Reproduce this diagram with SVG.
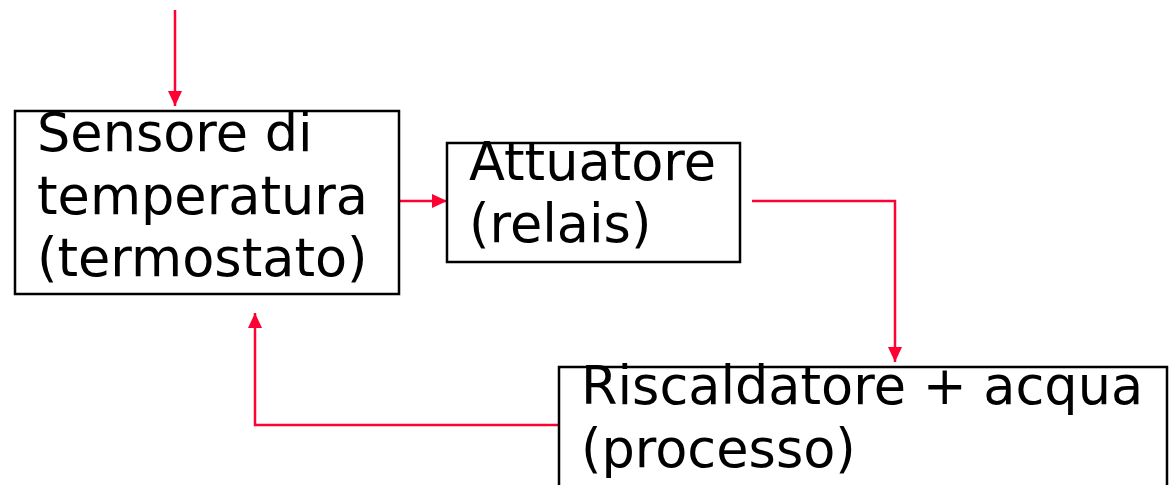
<svg xmlns="http://www.w3.org/2000/svg" width="1173" height="485" viewBox="0 0 1173 485">
  <defs>
    <marker id="arrow" viewBox="0 0 15 14" refX="15" refY="7" markerWidth="15" markerHeight="14" markerUnits="userSpaceOnUse" orient="auto">
      <path d="M0,0 L15,7 L0,14 z" fill="#FF0033"/>
    </marker>
    <style>
      .box { fill: #FFFFFF; stroke: #000000; stroke-width: 2.5; }
      .label { font-family: "DejaVu Sans", Verdana, sans-serif; font-size: 52.5px; fill: #000000; }
      .link { fill: none; stroke: #FF0033; stroke-width: 2.5; marker-end: url(#arrow); }
    </style>
  </defs>
  <rect width="1173" height="485" fill="#FFFFFF"/>

  <g id="connectors">
    <path class="link" d="M175,10 L175,106"/>
    <path class="link" d="M400,201 L447,201"/>
    <path class="link" d="M752,201 L895,201 L895,362"/>
    <path class="link" d="M559,425 L255,425 L255,313"/>
  </g>

  <g id="sensore">
    <rect class="box" x="15" y="111" width="384" height="183"/>
    <text class="label">
      <tspan x="37" y="151">Sensore di</tspan>
      <tspan x="37" y="213.5">temperatura</tspan>
      <tspan x="37" y="276">(termostato)</tspan>
    </text>
  </g>

  <g id="attuatore">
    <rect class="box" x="447" y="143" width="293" height="119"/>
    <text class="label">
      <tspan x="469" y="180">Attuatore</tspan>
      <tspan x="469" y="242">(relais)</tspan>
    </text>
  </g>

  <g id="processo">
    <rect class="box" x="559" y="367" width="608" height="130"/>
    <text class="label">
      <tspan x="581" y="404">Riscaldatore + acqua</tspan>
      <tspan x="581" y="467">(processo)</tspan>
    </text>
  </g>
</svg>
